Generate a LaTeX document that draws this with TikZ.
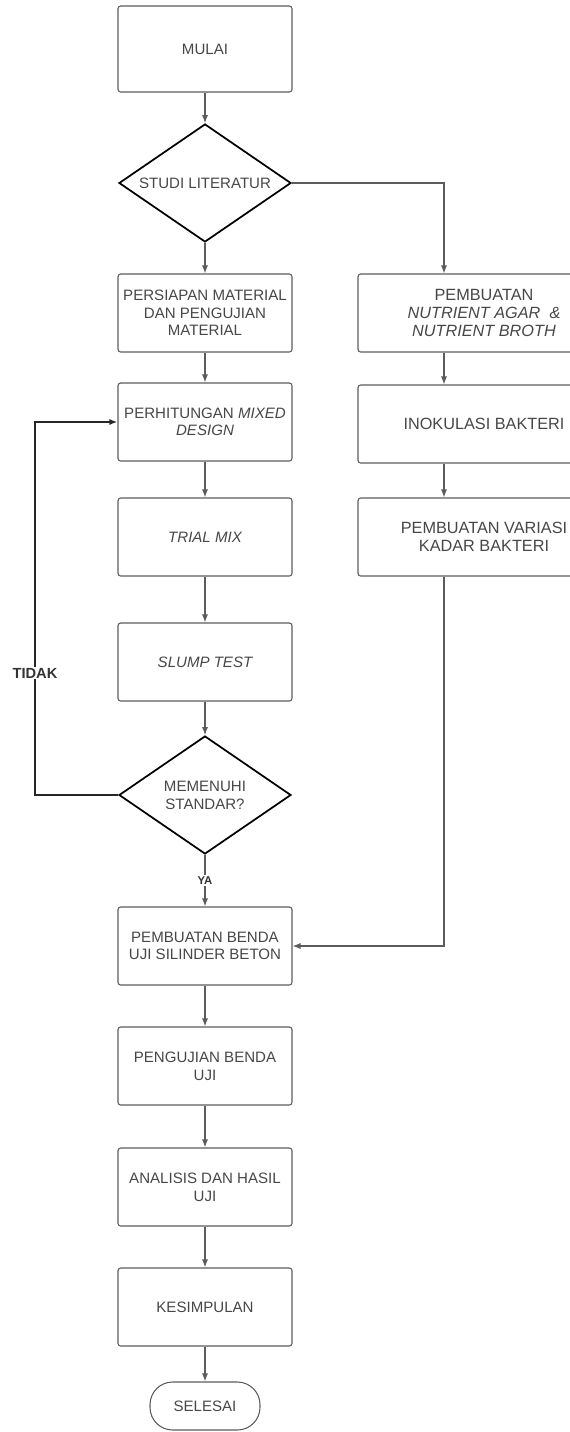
\documentclass[tikz,border=0pt]{standalone}
\usepackage{fontspec}
\setmainfont{Liberation Sans}
\usetikzlibrary{shapes.geometric,arrows.meta}
\definecolor{garis}{HTML}{5C5C5C}
\definecolor{teks}{HTML}{474747}

\begin{document}
\begin{tikzpicture}[x=0.75pt,y=-0.75pt,
    box/.style={draw=garis,line width=0.8pt,rounded corners=2pt,
      minimum width=130.5pt,minimum height=58.5pt,align=center,
      text=teks,font=\fontsize{11.3}{13.2}\selectfont},
    widebox/.style={box,minimum width=189pt,font=\fontsize{12.2}{13.4}\selectfont},
    decision/.style={diamond,draw=black,line width=1.3pt,inner sep=0pt,
      minimum width=129pt,minimum height=88.5pt,align=center,
      text=teks,font=\fontsize{11.3}{13.4}\selectfont},
    terminal/.style={box,rounded corners=17pt,minimum width=82.5pt,
      minimum height=36pt},
    arr/.style={draw=garis,line width=0.8pt,-{Latex[length=6pt,width=4.5pt]}},
    label/.style={fill=white,inner sep=1pt,font=\fontsize{11}{12}\selectfont\bfseries,
      text=black!80}]
    \useasboundingbox (0,0) rectangle (570,1432);
    \clip (0,0) rectangle (570,1432);
    % Main column
    \node[box,minimum height=64.5pt] (mulai) at (205,49) {MULAI};
    \node[decision] (lit) at (205,183) {\makebox[0pt]{STUDI LITERATUR}};
    \node[box] (siap) at (205,313) {PERSIAPAN MATERIAL\\DAN PENGUJIAN\\MATERIAL};
    \node[box] (hitung) at (205,422) {PERHITUNGAN {\itshape MIXED}\\{\itshape DESIGN}};
    \node[box] (trial) at (205,537) {\itshape TRIAL MIX};
    \node[box] (slump) at (205,662) {\itshape SLUMP TEST};
    \node[decision] (cek) at (205,795) {MEMENUHI\\STANDAR?};
    \node[box] (benda) at (205,946) {PEMBUATAN BENDA\\UJI SILINDER BETON};
    \node[box] (uji) at (205,1066) {PENGUJIAN BENDA\\UJI};
    \node[box] (hasil) at (205,1187) {ANALISIS DAN HASIL\\UJI};
    \node[box] (simpul) at (205,1307) {KESIMPULAN};
    \node[terminal] (selesai) at (205,1406) {SELESAI};
    % Bacteria column
    \coordinate (rcol) at (444,0);
    \node[widebox] (nutr) at (484,313) {PEMBUATAN\\{\itshape NUTRIENT AGAR \ \&}\\{\itshape NUTRIENT BROTH}};
    \node[widebox] (inok) at (484,424) {INOKULASI BAKTERI};
    \node[widebox] (var) at (484,537) {PEMBUATAN VARIASI\\KADAR BAKTERI};
    % Arrows
    \draw[arr] (mulai) -- (lit);
    \draw[arr] (lit) -- (siap);
    \draw[arr] (siap) -- (hitung);
    \draw[arr] (hitung) -- (trial);
    \draw[arr] (trial) -- (slump);
    \draw[arr] (slump) -- (cek);
    \draw[arr] (cek) -- node[label,font=\fontsize{8.5}{9}\selectfont\bfseries] {YA} (benda);
    \draw[arr] (benda) -- (uji);
    \draw[arr] (uji) -- (hasil);
    \draw[arr] (hasil) -- (simpul);
    \draw[arr] (simpul) -- (selesai);
    \draw[arr] (lit.east) -| (rcol |- nutr.north);
    \draw[arr] (rcol |- nutr.south) -- (rcol |- inok.north);
    \draw[arr] (rcol |- inok.south) -- (rcol |- var.north);
    \draw[arr] (rcol |- var.south) |- (benda.east);
    % Loop back
    \coordinate (loop) at (35,673);
    \draw[arr,draw=black!85,line width=1.3pt] (cek.west) -| (loop) |- (hitung.west);
    \node[label] (tidak) at (loop) {TIDAK};
  \end{tikzpicture}
\end{document}
